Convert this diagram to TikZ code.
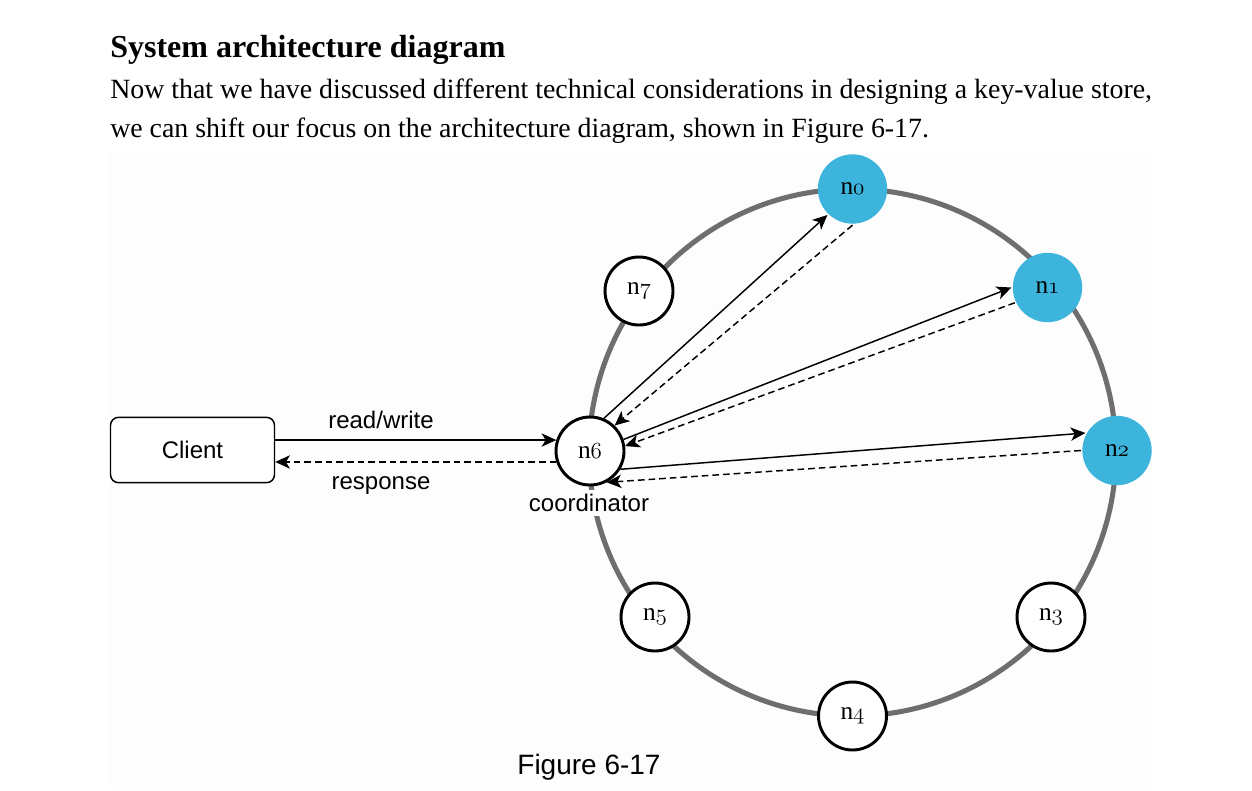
\documentclass[tikz,border=0pt]{standalone}
\usepackage{fontspec}
\setmainfont{Liberation Serif}
\newfontfamily\labelsans{Liberation Sans}
\usetikzlibrary{arrows.meta,positioning}
\definecolor{ringgray}{HTML}{6E6E6E}
\definecolor{hotblue}{HTML}{3CB4DC}
\definecolor{paper}{HTML}{FDFDFD}
%% old style digits from the math italic font
\newcommand{\osnum}[1]{{\usefont{OML}{cmm}{m}{it}#1}}

\begin{document}
\begin{tikzpicture}%
	[x=0.75pt, y=-0.75pt,
	ring/.style={color=ringgray, line width=3.8pt},
	replica/.style={circle, draw, line width=2.2pt, fill=white, inner sep=0pt,
		minimum size=51pt, font=\fontsize{19}{19}\selectfont},
	hot/.style={replica, draw=none, fill=hotblue, minimum size=52pt},
	clientbox/.style={draw, line width=1.1pt, rounded corners=6pt, fill=white,
		minimum width=123pt, minimum height=49pt, font=\labelsans\fontsize{18}{18}\selectfont},
	lbl/.style={font=\labelsans\fontsize{18}{18}\selectfont, inner sep=0pt},
	msg/.style={line width=1.1pt, -{Stealth[length=11pt, width=10pt, inset=3pt]}},
	reply/.style={msg, dash pattern=on 5pt off 3pt},
	para/.style={anchor=base west, inner sep=0pt, font=\fontsize{20.9}{24}\selectfont}]
%
\useasboundingbox (0,0) rectangle (1252,790);
%%
%% Heading and text
%%
\node[para, font=\bfseries\fontsize{24}{28}\selectfont] (title) at (110,57) {System architecture diagram};
\node[para] (line1) at (110,98) {Now that we have discussed different technical considerations in designing a key-value store,};
\node[para] (line2) at (110,137) {we can shift our focus on the architecture diagram, shown in Figure 6-17.};
%%
%% Figure area
%%
\fill[paper] (110,151) rectangle (1153,790);
\coordinate (center) at (852.5,452.5);
\draw[ring] (center) circle[radius=197.6pt];
%%
%% Nodes on the ring
%%
\node[hot] (n0) at (852.5,189) {n\osnum{0}};
\node[hot] (n1) at (1047.5,287.5) {n\osnum{1}};
\node[hot] (n2) at (1117,450.5) {n\osnum{2}};
\node[replica] (n3) at (1051,617) {n\osnum{3}};
\node[replica] (n4) at (852.5,716) {n\osnum{4}};
\node[replica] (n5) at (655,617) {n\osnum{5}};
\node[replica] (n6) at (590,451) {n\osnum{6}};
\node[replica] (n7) at (639,291) {n\osnum{7}};
\node[lbl, fill=paper, inner sep=3pt] (coord) at (589,503) {coordinator};
%%
%% Client
%%
\node[clientbox] (client) at (192.5,450) {Client};
\draw[msg] (n6.162 -| client.east) -- (n6.162);
\draw[reply] (n6.198) -- (n6.198 -| client.east);
\node[lbl] (rw) at (381,420) {read/write};
\node[lbl] (resp) at (381,486) {response};
%%
%% Coordinator to replicas
%%
\draw[msg] (n6.67) -- (n0.226);
\draw[reply] (n0.270) -- (n6.46);
\draw[msg] (n6.19) -- (n1.180);
\draw[reply] (n1.205) -- (n6.8);
\draw[msg] (n6.-31) -- (n2.151);
\draw[reply] (n2.180) -- (n6.-62);
%%
\node[lbl, font=\labelsans\fontsize{21}{21}\selectfont] (caption) at (589,767) {Figure 6-17};
\end{tikzpicture}
\end{document}
